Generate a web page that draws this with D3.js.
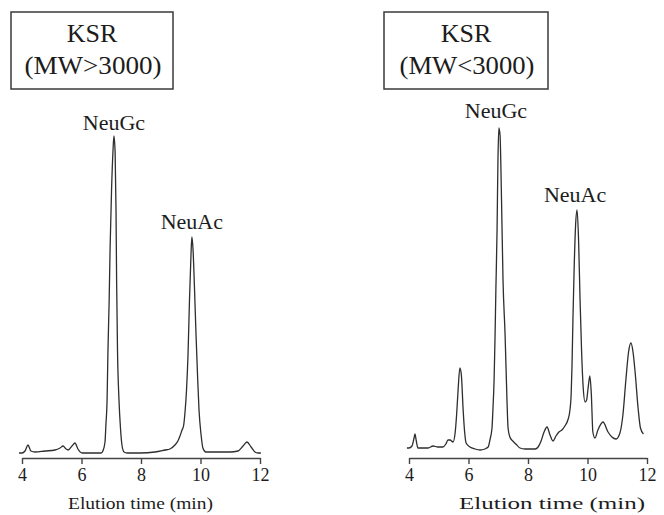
<!DOCTYPE html>
<html><head><meta charset="utf-8">
<script src="https://cdn.jsdelivr.net/npm/d3@7/dist/d3.min.js"></script>
<style>
html,body{margin:0;padding:0;background:#fff;}
svg{display:block;}
text{font-family:"Liberation Serif","Times New Roman",serif;fill:#1c1c1c;}
</style></head>
<body>
<svg id="chart" width="664" height="515"></svg>
<script>
// ---- data (elution time in min, detector response in arbitrary units) ----
const tickValues = [4, 6, 8, 10, 12];
const xLabel = "Elution  time  (min)";

const titleLeft = ["KSR", "(MW>3000)"];
const titleRight = ["KSR", "(MW<3000)"];

const timeLeft = [3.90,4.00,4.10,4.20,4.30,4.44,4.77,5.11,5.28,5.38,5.48,5.55,5.68,5.78,5.88,6.02,6.35,6.66,6.72,6.79,6.82,6.86,6.89,6.93,6.96,7.01,7.06,7.09,7.13,7.16,7.18,7.21,7.26,7.31,7.36,7.43,7.53,7.97,8.47,8.81,8.97,9.14,9.24,9.31,9.38,9.43,9.48,9.53,9.58,9.63,9.68,9.71,9.75,9.80,9.85,9.90,9.95,10.02,10.08,10.18,10.49,10.99,11.26,11.43,11.56,11.70,11.83,11.93,12.03];
const signalLeft = [5,5,7,13,7,6,7,8,10,12,9,8,12,15,9,5,5,5,7,16,33,58,108,158,208,268,308,322,306,248,178,108,58,30,13,6,5,5,6,8,9,13,17,22,28,32,46,68,103,158,203,221,208,168,123,83,48,23,10,6,6,6,7,12,16,11,6,5,5];

const timeRight = [3.93,4.00,4.10,4.17,4.20,4.24,4.30,4.47,4.64,4.81,4.97,5.14,5.24,5.31,5.38,5.48,5.55,5.60,5.65,5.71,5.76,5.82,5.87,5.92,6.05,6.22,6.39,6.55,6.66,6.72,6.79,6.82,6.86,6.89,6.92,6.96,6.99,7.02,7.06,7.11,7.16,7.23,7.29,7.33,7.39,7.49,7.59,7.73,7.90,8.24,8.34,8.44,8.54,8.64,8.74,8.84,8.94,9.04,9.14,9.24,9.34,9.41,9.45,9.48,9.51,9.55,9.60,9.65,9.70,9.75,9.80,9.85,9.92,9.97,10.02,10.08,10.13,10.18,10.25,10.35,10.52,10.69,10.82,10.96,11.09,11.19,11.29,11.38,11.46,11.53,11.60,11.70,11.78,11.88];
const signalRight = [10,10,12,20,24,18,10,10,10,12,11,11,14,18,18,16,25,43,68,90,83,48,26,15,11,9,8,9,11,18,30,48,78,118,168,228,298,330,323,258,178,123,61,30,21,17,14,10,9,9,11,17,26,31,23,17,22,26,28,32,38,48,63,93,138,188,233,248,218,158,108,73,56,58,70,82,63,26,20,28,36,26,21,19,25,43,78,106,115,106,86,50,30,24];

const peakNames = ["NeuGc", "NeuAc"];
const peakTimesLeft = [7.09, 9.71];
const peakTimesRight = [6.99, 9.65];

// ---- drawing ----
const svg = d3.select("#chart");
const yScale = d3.scaleLinear().domain([0, 330]).range([458, 128]);

function panel(cfg) {
  const g = svg.append("g");
  const x = d3.scaleLinear().domain([4, 12]).range([cfg.x0, cfg.x1]);

  // title box
  g.append("rect").attr("x", cfg.box[0]).attr("y", 12)
    .attr("width", cfg.box[1] - cfg.box[0]).attr("height", 77)
    .attr("fill", "none").attr("stroke", "#3a3a3a").attr("stroke-width", 1.5);
  const cx = (cfg.box[0] + cfg.box[1]) / 2;
  g.append("text").attr("x", cx).attr("y", 42).attr("text-anchor", "middle")
    .style("font-size", "26px").text(cfg.title[0]);
  g.append("text").attr("x", cx + 1).attr("y", 74).attr("text-anchor", "middle")
    .style("font-size", "26px").attr("textLength", cfg.titleLen).attr("lengthAdjust", "spacingAndGlyphs")
    .text(cfg.title[1]);

  // trace
  const line = d3.line().x(d => x(d[0])).y(d => yScale(d[1])).curve(d3.curveMonotoneX);
  g.append("path").datum(d3.zip(cfg.time, cfg.signal))
    .attr("d", line).attr("fill", "none").attr("stroke", "#2e2e2e")
    .attr("stroke-width", 1.3).attr("stroke-linejoin", "round");

  // axis
  const axis = d3.axisBottom(x).tickValues(tickValues).tickSize(6).tickSizeOuter(0).tickPadding(4);
  const ag = g.append("g").attr("transform", "translate(0,458)").call(axis);
  ag.select(".domain").attr("stroke", "#444").attr("stroke-width", 1.6);
  ag.selectAll(".tick line").attr("stroke", "#444").attr("stroke-width", 1.4);
  ag.selectAll(".tick text").style("font-size", "18px")
    .style("font-family", '"Liberation Serif","Times New Roman",serif').attr("fill", "#1c1c1c");

  g.append("text").attr("x", cfg.labelX[0]).attr("y", 509)
    .attr("textLength", cfg.labelX[1] - cfg.labelX[0]).attr("lengthAdjust", "spacingAndGlyphs")
    .style("font-size", "17px").text(xLabel);

  // peak labels
  peakNames.forEach((name, i) => {
    g.append("text").attr("x", x(cfg.peaks[i]) + cfg.labelDx[i]).attr("y", cfg.labelY[i])
      .attr("text-anchor", "middle").style("font-size", "22px").text(name);
  });
}

panel({x0: 22, x1: 260, box: [11, 173], title: titleLeft, titleLen: 137,
       time: timeLeft, signal: signalLeft, labelX: [68, 213],
       peaks: peakTimesLeft, labelY: [130, 229], labelDx: [0, 0]});
panel({x0: 409, x1: 647, box: [384, 548], title: titleRight, titleLen: 135,
       time: timeRight, signal: signalRight, labelX: [459, 645],
       peaks: peakTimesRight, labelY: [118, 202], labelDx: [-2, -2]});
</script>
</body></html>
